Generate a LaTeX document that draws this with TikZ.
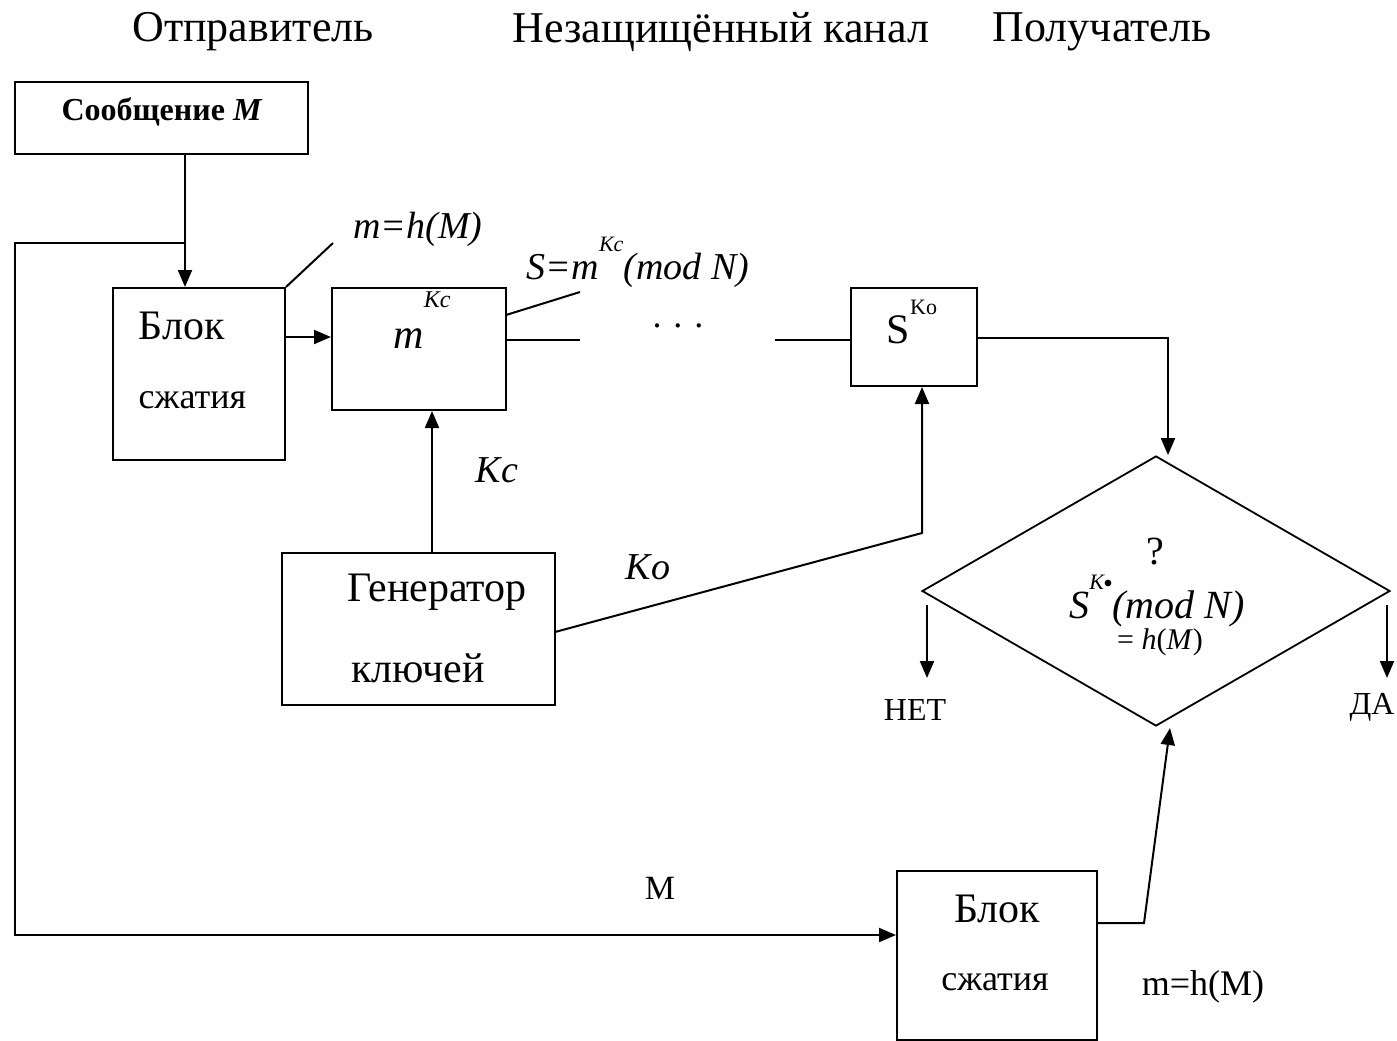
\documentclass[tikz,border=0pt]{standalone}
\usepackage{fontspec}
\setmainfont{Liberation Serif}
\usetikzlibrary{shapes.geometric,arrows.meta}
\begin{document}
\begin{tikzpicture}[x=0.5pt,y=-0.5pt,
  line width=1pt,
  box/.style={draw,rectangle,inner sep=0pt,line width=1pt},
  arr/.style={-{Triangle[length=8.5pt,width=7pt]}},
  ttl/.style={font=\fontsize{22}{25}\selectfont},
  big/.style={font=\fontsize{21}{24}\selectfont},
  mid/.style={font=\fontsize{18}{21}\selectfont},
  lab/.style={font=\fontsize{19}{22}\selectfont\itshape}]
\useasboundingbox (0,0) rectangle (1397,1040);
% titles
\node[ttl] (t1) at (253,32) {Отправитель};
\node[ttl] (t2) at (721,32) {Незащищённый канал};
\node[ttl] (t3) at (1102,32) {Получатель};
% boxes
\node[box,minimum width=146.5pt,minimum height=36pt] (msg) at (161.5,118) {};
\node[font=\fontsize{16}{19}\selectfont\bfseries] (msgt) at (162,112) {Сообщение \textit{M}};
\node[box,minimum width=86pt,minimum height=86pt] (blk1) at (199,374) {};
\node[big,anchor=west] (blk1a) at (131,326) {Блок};
\node[mid,anchor=west] (blk1b) at (131,400) {сжатия};
\node[box,minimum width=87pt,minimum height=61pt] (mbox) at (419,349) {};
\node[font=\fontsize{21}{24}\selectfont] (mboxt) at (422,320) {\textit{m}\raisebox{2.1ex}{\fontsize{12}{12}\selectfont\textit{Kc}}};
\node[box,minimum width=63pt,minimum height=49pt] (sbox) at (914,337) {};
\node[font=\fontsize{21}{24}\selectfont] (sboxt) at (912,322) {S\raisebox{1.5ex}{\fontsize{11}{11}\selectfont Ko}};
\node[box,minimum width=136.5pt,minimum height=76pt] (gen) at (418.5,629) {};
\node[big] (gena) at (437,592) {Генератор};
\node[big] (genb) at (418,668) {ключей};
\node[box,minimum width=100pt,minimum height=84.5pt] (bot) at (997,955) {};
\node[big] (bota) at (997,909) {Блок};
\node[mid] (botb) at (995,982) {сжатия};
\node[draw,diamond,inner sep=0pt,minimum width=234pt,minimum height=135pt,line width=0.9pt] (dia) at (1156,591) {};
\node[font=\fontsize{20}{22}\selectfont] (q) at (1155,552) {?};
\node[font=\fontsize{20}{22}\selectfont\itshape] (diat) at (1157,601) {S\raisebox{1.6ex}{\fontsize{11}{11}\selectfont\itshape K\raisebox{0.2ex}{\fontsize{8}{8}\selectfont$\bullet$}}(mod N)};
\node[font=\fontsize{15}{17}\selectfont] (diab) at (1160,642) {= \textit{h}(\textit{M})};
% labels
\node[lab] (mh) at (418,229) {m=h(M)};
\node[lab] (sl) at (638,262) {S=m\raisebox{1.6ex}{\fontsize{11}{11}\selectfont Kc}(mod N)};
\node[font=\fontsize{18}{20}\selectfont] (dots) at (678,326) {. . .};
\node[lab] (kc) at (497,470) {Kc};
\node[lab] (ko) at (648,567) {Ko};
\node[font=\fontsize{17}{20}\selectfont] (mlab) at (660,888) {M};
\node[font=\fontsize{18}{21}\selectfont] (mh2) at (1203,987) {m=h(M)};
\node[font=\fontsize{16}{19}\selectfont] (net) at (915,710) {НЕТ};
\node[font=\fontsize{16}{19}\selectfont] (da) at (1372,707) {ДА};
% coordinates
\coordinate (c1) at (185,243);
\coordinate (lc1) at (15,243);
\coordinate (lc2) at (15,935);
\coordinate (h1) at (0,337);
\coordinate (ml) at (333,243);
\coordinate (sl1) at (506,315);
\coordinate (sl2) at (580,292);
\coordinate (ch) at (0,340);
\coordinate (ch1) at (580,340);
\coordinate (ch2) at (775,340);
\coordinate (s1) at (1168,338);
\coordinate (kx) at (432,0);
\coordinate (g1) at (922,533);
\coordinate (n1) at (927,605);
\coordinate (n2) at (927,678);
\coordinate (y1) at (1387,605);
\coordinate (y2) at (1387,678);
\coordinate (b1) at (1144,923);
\coordinate (b0) at (1097,923);
\coordinate (dbt) at (1170,728);
\coordinate (gr) at (555,632);
% connectors
\draw[arr] (msg.south -| c1) -- (blk1.north -| c1);
\draw[arr] (c1) -- (lc1) -- (lc2) -- (lc2 -| bot.west);
\draw[arr] (blk1.east |- h1) -- (mbox.west |- h1);
\draw (blk1.north east) -- (ml);
\draw (sl1) -- (sl2);
\draw (mbox.east |- ch) -- (ch1);
\draw (ch2) -- (sbox.west |- ch);
\draw[arr] (sbox.east |- s1) -- (s1) -- (s1 |- dia.north);
\draw[arr] (gen.north -| kx) -- (mbox.south -| kx);
\draw[arr] (gr) -- (g1) -- (sbox.south -| g1);
\draw[arr] (n1) -- (n2);
\draw[arr] (y1) -- (y2);
\draw[arr] (b0) -- (b1) -- (dbt);
\end{tikzpicture}
\end{document}
